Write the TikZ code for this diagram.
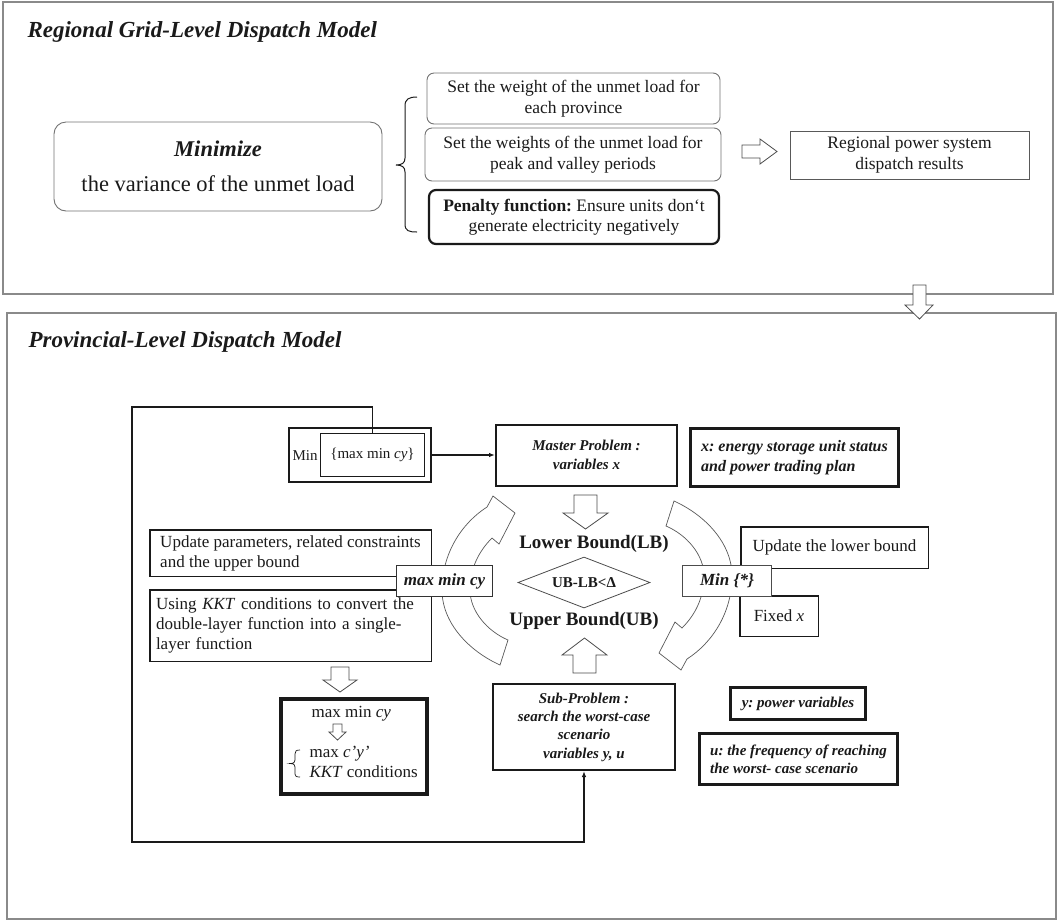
\documentclass[tikz,border=0pt]{standalone}
\usepackage{fontspec}
\setmainfont{Liberation Serif}
\usetikzlibrary{shapes.geometric,arrows.meta}
\definecolor{frm}{HTML}{8A8A8A}
\definecolor{ink}{HTML}{1A1A1A}
\newcommand\fsTitle{\fontsize{23}{27}\selectfont}
\newcommand\fsBig{\fontsize{22.5}{35}\selectfont}
\newcommand\fsTop{\fontsize{17.5}{20.5}\selectfont}
\newcommand\fsBody{\fontsize{17}{20}\selectfont}
\newcommand\fsMid{\fontsize{16}{20.5}\selectfont}
\newcommand\fsSmall{\fontsize{15}{18.3}\selectfont}
\newcommand\fsLB{\fontsize{19}{22}\selectfont}
\frenchspacing
\begin{document}
\frenchspacing
\begin{tikzpicture}[x=1pt,y=-1pt,
  every node/.style={text=ink},
  frame/.style={draw=frm, line width=1.4pt},
  rbox/.style={draw=black!55, line width=0.9pt, rounded corners=7pt, fill=white, inner sep=0pt, align=center, font=\fsTop},
  sbox/.style={draw=ink, line width=1.5pt, fill=white, inner sep=0pt},
  hollow/.style={draw=black!70, line width=0.8pt, fill=white, line join=miter},
  curved/.style={draw=black!65, line width=0.7pt, fill=white},
  conn/.style={draw=ink, line width=1.3pt},
  tip/.style={-{Latex[length=6pt,width=4.5pt]}}
]
\useasboundingbox (0,0) rectangle (1059,922);

% ---------- frames ----------
\draw[frame] (3,2) rectangle (1053,294);
\draw[frame] (7,313) rectangle (1056,919);
\node[font=\fsTitle\bfseries\itshape, anchor=base west] (t1) at (24,37) {Regional Grid-Level Dispatch Model};
\node[font=\fsTitle\bfseries\itshape, anchor=base west] (t2) at (25,347) {Provincial-Level Dispatch Model};

% ---------- regional level ----------
\node[rbox, minimum width=328, minimum height=89, rounded corners=12pt, font=\fsBig] (minim) at (218,166.5)
  {\textbf{\textit{Minimize}}\\the variance of the unmet load};
\draw[draw=ink, line width=1pt] (417,97) .. controls (409,97) and (405,99) .. (405,106) -- (405,158)
  .. controls (405,163) and (402,165) .. (396,165) .. controls (402,165) and (405,167) .. (405,172)
  -- (405,224) .. controls (405,231) and (409,232) .. (417,232);
\node[rbox, minimum width=293, minimum height=51] (w1) at (573.5,98.5) {Set the weight of the unmet load for\\each province};
\node[rbox, minimum width=296, minimum height=53] (w2) at (573,154.5) {Set the weights of the unmet load for\\peak and valley periods};
\node[rbox, draw=ink, line width=2.2pt, minimum width=290, minimum height=54] (w3) at (574,217)
  {\textbf{Penalty function:} Ensure units don‘t\\generate electricity negatively};
\draw[hollow] (742,145) -- (760,145) -- (760,139) -- (777,151.5) -- (760,164) -- (760,158) -- (742,158) -- cycle;
\node[sbox, draw=black!65, line width=1pt, minimum width=239, minimum height=48, font=\fsTop, align=center] (res) at (909.5,155)
  {Regional power system\\dispatch results};
\draw[hollow] (913,285) -- (926,285) -- (926,305) -- (933,305) -- (919.5,319) -- (905,305) -- (913,305) -- cycle;

% ---------- curved cycle arrows ----------
\begin{scope}[shift={(587,583)}]
\draw[curved] (-87,82) .. controls (-118,68) and (-145,40) .. (-145,7)
  .. controls (-145,-30) and (-125,-60) .. (-100,-76) -- (-94,-87) -- (-72,-70) -- (-88,-39) -- (-95,-45)
  .. controls (-108,-32) and (-117,-15) .. (-117,7) .. controls (-117,28) and (-100,48) .. (-79,57) -- cycle;
\end{scope}
\begin{scope}[shift={(587,583)}, rotate=180]
\draw[curved] (-87,82) .. controls (-118,68) and (-145,40) .. (-145,7)
  .. controls (-145,-30) and (-125,-60) .. (-100,-76) -- (-94,-87) -- (-72,-70) -- (-88,-39) -- (-95,-45)
  .. controls (-108,-32) and (-117,-15) .. (-117,7) .. controls (-117,28) and (-100,48) .. (-79,57) -- cycle;
\end{scope}

% ---------- provincial level ----------
\node[sbox, line width=1.8pt, minimum width=142, minimum height=54] (minout) at (360,455) {};
\node[font=\fsSmall] (mintxt) at (305,456) {Min};
\node[sbox, line width=1.5pt, minimum width=104, minimum height=43, font=\fsSmall] (minin) at (372.5,455) {\{max min \textit{cy}\}};

\node[sbox, line width=2pt, minimum width=181, minimum height=61, font=\fsSmall\bfseries\itshape, align=center] (master) at (586.5,455)
  {Master Problem :\\variables x};
\node[sbox, line width=3pt, minimum width=208, minimum height=58, font=\fsMid\bfseries\itshape, align=left] (xvar) at (794.5,457.5)
  {x: energy storage unit status\\and power trading plan};

\draw[hollow] (574,495) -- (597,495) -- (597,513) -- (608,513) -- (585.5,529) -- (563,513) -- (574,513) -- cycle;
\node[font=\fsLB\bfseries, anchor=base] (lb) at (594,548) {Lower Bound(LB)};
\node[diamond, draw=black!70, line width=0.8pt, minimum width=132, minimum height=51, shape aspect=2.6, inner sep=0pt, font=\fsSmall\bfseries] (conv) at (584,582.5) {UB-LB<Δ};
\node[font=\fsLB\bfseries, anchor=base] (ub) at (584,625) {Upper Bound(UB)};
\draw[hollow] (573,673) -- (596,673) -- (596,655) -- (607,655) -- (584.5,638) -- (562,655) -- (573,655) -- cycle;

\node[sbox, line width=2pt, minimum width=182, minimum height=86, font=\fsSmall\bfseries\itshape, align=center] (sub) at (584,727)
  {Sub-Problem :\\search the worst-case\\scenario\\variables y, u};
\node[sbox, line width=3pt, minimum width=135, minimum height=32, font=\fsSmall\bfseries\itshape, align=left] (yvar) at (798,703.5)
  {y: power variables};
\node[sbox, line width=3pt, minimum width=198, minimum height=51, font=\fsSmall\bfseries\itshape, align=left] (uvar) at (798.5,759)
  {u: the frequency of reaching\\the worst- case scenario};

\node[sbox, line width=1.5pt, minimum width=281.5, minimum height=46.5, font=\fsBody, align=left] (upd) at (290.5,553)
  {Update parameters, related constraints\\and the upper bound};
\node[sbox, line width=1.5pt, minimum width=281.5, minimum height=71.5, font=\fsBody, align=left, text width=269] (kkt) at (290.5,625.5)
  {Using \textit{KKT} conditions to convert the\\double-layer function into a single-\\layer function};
\node[sbox, draw=black!80, line width=1.2pt, minimum width=96, minimum height=31, font=\fsBody\bfseries\itshape] (mmcy) at (444.5,581) {max min cy};

\draw[hollow] (331,667) -- (349,667) -- (349,680) -- (357,680) -- (340,692) -- (323,680) -- (331,680) -- cycle;
\node[sbox, line width=4pt, minimum width=146, minimum height=95] (kres) at (354,746.5) {};
\node[font=\fsBody, anchor=base west] (k1) at (308,717) {max min \textit{cy}};
\draw[hollow] (333,724) -- (342,724) -- (342,732) -- (346,732) -- (337.5,740) -- (329,732) -- (333,732) -- cycle;
\draw[draw=ink, line width=0.7pt] (300,750) .. controls (296,750) and (295,751) .. (295,754) -- (295,760)
  .. controls (295,762) and (294,763.5) .. (290,763.5) .. controls (294,763.5) and (295,765) .. (295,767)
  -- (295,774) .. controls (295,776) and (296,777) .. (300,777);
\node[font=\fsBody, anchor=base west] (k2) at (306,757) {max \textit{c’y’}};
\node[font=\fsBody, anchor=base west] (k3) at (306,777) {\textit{KKT} conditions};

\node[sbox, line width=1.5pt, minimum width=187.5, minimum height=41.5, font=\fsBody] (updlb) at (834.5,547.5) {Update the lower bound};
\node[sbox, line width=1.5pt, minimum width=78.5, minimum height=40.5, font=\fsBody] (fixed) at (779,616) {Fixed \textit{x}};
\node[sbox, draw=black!70, line width=1.2pt, minimum width=89, minimum height=31, font=\fsBody\bfseries\itshape] (minstar) at (727,581) {Min \{*\}};

% ---------- connectors ----------
\coordinate (lpA) at (132,407);
\coordinate (lpB) at (132,842);
\draw[conn, tip] (minin.north) |- (lpA) -- (lpB) -| (sub.south);
\draw[conn, tip] (minout.east) -- (master.west);
\end{tikzpicture}
\end{document}
